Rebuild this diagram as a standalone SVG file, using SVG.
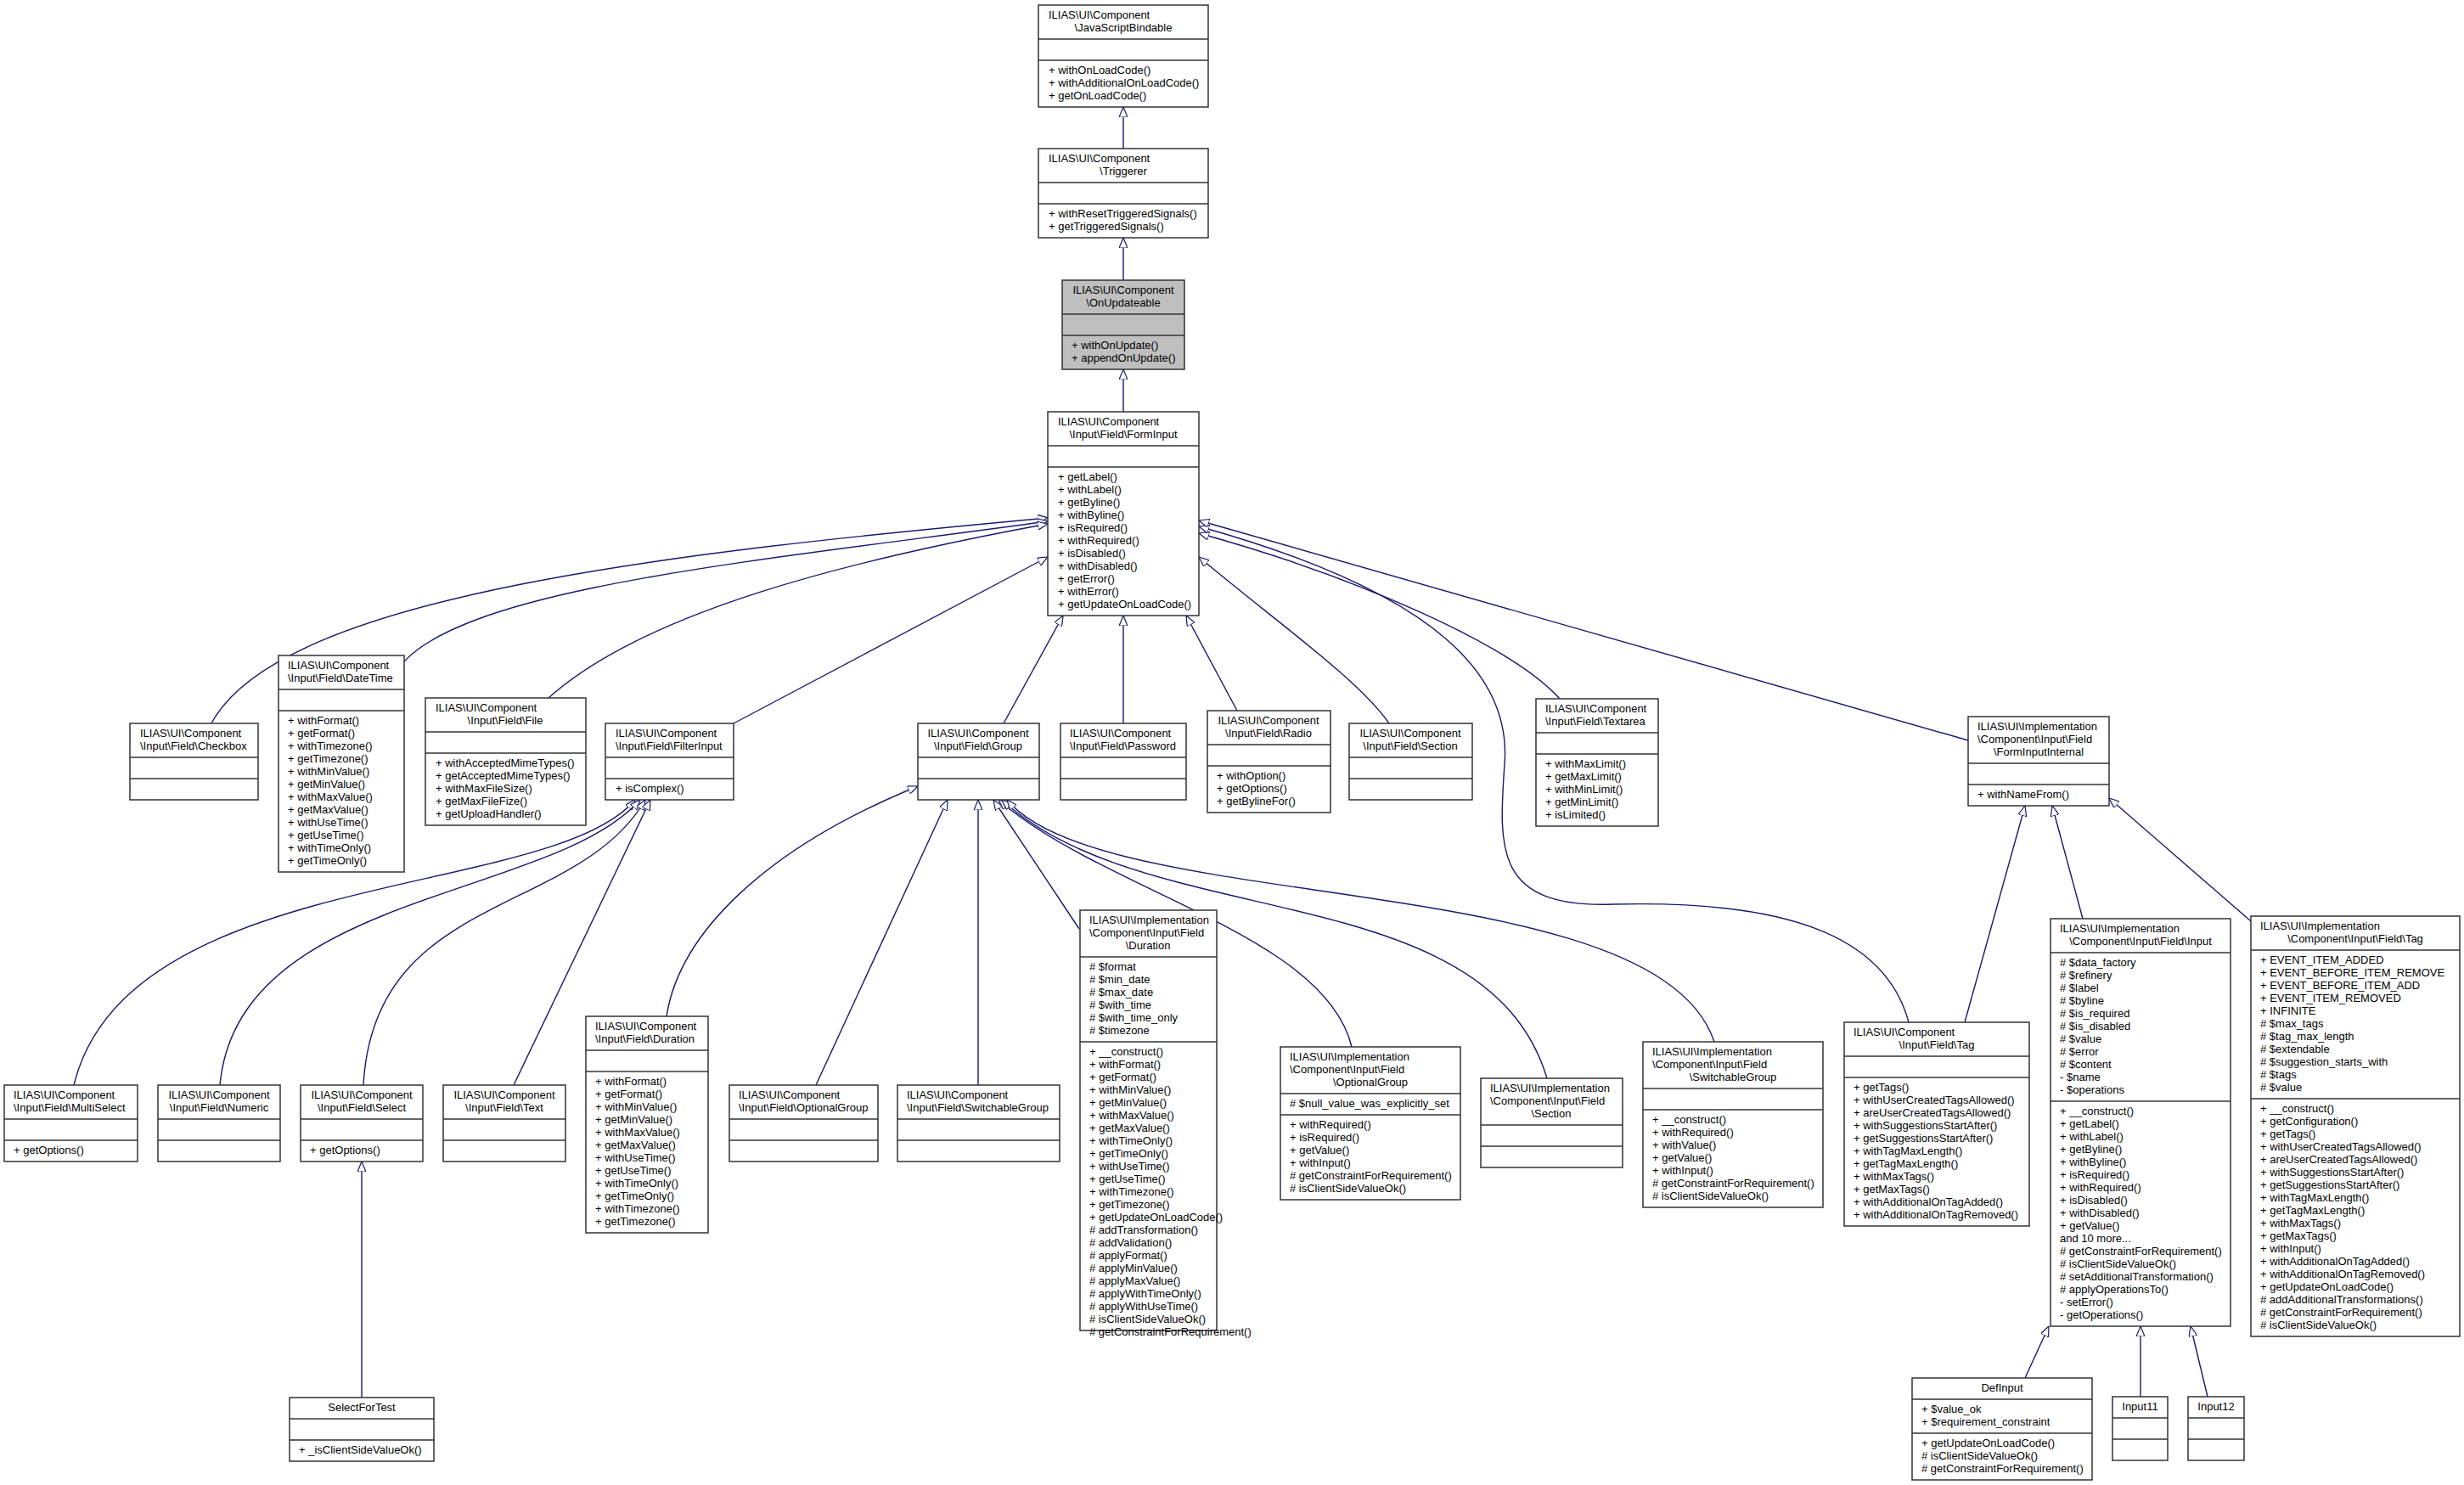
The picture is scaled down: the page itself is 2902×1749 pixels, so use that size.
<svg xmlns="http://www.w3.org/2000/svg" width="2902" height="1749" viewBox="0 0 2902 1749">
<style>
rect{fill:#fff;stroke:#333;stroke-width:1.5}
line{stroke:#333;stroke-width:1.5}
text{font-family:"Liberation Sans",Arial,sans-serif;font-size:13px;fill:#000}
.c{text-anchor:middle}
#edges path{fill:none;stroke:#191970;stroke-width:1.4;marker-start:url(#inh)}
</style>
<defs>
<marker id="inh" viewBox="0 0 12 10" refX="12" refY="5" markerWidth="12" markerHeight="10" markerUnits="userSpaceOnUse" orient="auto-start-reverse">
<path d="M0,0 L12,5 L0,10 z" fill="#fff" stroke="#191970" stroke-width="1.2"/>
</marker>
</defs>
<rect x="0" y="0" width="2902" height="1749" style="fill:#fff;stroke:none"/>
<g id="edges">
<path d="M1323,126 L1323,175"/>
<path d="M1323,280 L1323,330"/>
<path d="M1323,435 L1323,485"/>
<path d="M1234,610 C800,650 330,700 249,852"/>
<path d="M1234,614 C900,660 560,690 476,779"/>
<path d="M1234,617 C1000,660 760,720 646,822"/>
<path d="M1234,656 L864,852"/>
<path d="M1252,725 L1182,852"/>
<path d="M1323,725 L1323,852"/>
<path d="M1397,725 L1457,837"/>
<path d="M1412,656 C1500,730 1600,800 1636,852"/>
<path d="M1412,628 C1600,680 1780,760 1837,823"/>
<path d="M1412,620 C1700,700 1780,800 1772,900 C1765,1000 1760,1070 1900,1065 C2100,1060 2220,1100 2248,1204"/>
<path d="M1412,613 L2318,872"/>
<path d="M748,942 C650,1060 150,1020 87,1278"/>
<path d="M754,942 C650,1060 280,1050 259,1278"/>
<path d="M760,942 C680,1080 440,1050 428,1278"/>
<path d="M766,942 L605,1278"/>
<path d="M426,1368 L426,1646"/>
<path d="M1081,926 C900,1000 800,1100 785,1197"/>
<path d="M1116,942 L961,1278"/>
<path d="M1152,942 L1152,1278"/>
<path d="M1170,942 L1271,1094"/>
<path d="M1176,942 C1300,1050 1560,1100 1592,1233"/>
<path d="M1180,942 C1350,1100 1750,1030 1822,1270"/>
<path d="M1186,942 C1300,1080 1950,1020 2019,1227"/>
<path d="M2385,949 L2314,1204"/>
<path d="M2417,949 L2453,1082"/>
<path d="M2484,940 L2651,1085"/>
<path d="M2413,1562 L2385,1623"/>
<path d="M2521,1562 L2521,1645"/>
<path d="M2580,1562 L2600,1645"/>
</g>

<g id="JavaScriptBindable"><rect x="1223" y="6" width="200" height="120"/><line x1="1223" y1="46" x2="1423" y2="46"/><line x1="1223" y1="71" x2="1423" y2="71"/>
<text x="1235" y="21.5">ILIAS\UI\Component</text><text x="1323" y="36.5" class="c">\JavaScriptBindable</text>
<text x="1235" y="86.5">+ withOnLoadCode()</text><text x="1235" y="101.5">+ withAdditionalOnLoadCode()</text><text x="1235" y="116.5">+ getOnLoadCode()</text></g>

<g id="Triggerer"><rect x="1223" y="175" width="200" height="105"/><line x1="1223" y1="215" x2="1423" y2="215"/><line x1="1223" y1="240" x2="1423" y2="240"/>
<text x="1235" y="190.5">ILIAS\UI\Component</text><text x="1323" y="205.5" class="c">\Triggerer</text>
<text x="1235" y="255.5">+ withResetTriggeredSignals()</text><text x="1235" y="270.5">+ getTriggeredSignals()</text></g>

<g id="OnUpdateable"><rect x="1251" y="330" width="144" height="105" style="fill:#bfbfbf"/><line x1="1251" y1="370" x2="1395" y2="370"/><line x1="1251" y1="395" x2="1395" y2="395"/>
<text x="1323" y="345.5" class="c">ILIAS\UI\Component</text><text x="1323" y="360.5" class="c">\OnUpdateable</text>
<text x="1262" y="410.5">+ withOnUpdate()</text><text x="1262" y="425.5">+ appendOnUpdate()</text></g>

<g id="FormInput"><rect x="1234" y="485" width="178" height="240"/><line x1="1234" y1="525" x2="1412" y2="525"/><line x1="1234" y1="550" x2="1412" y2="550"/>
<text x="1246" y="500.5">ILIAS\UI\Component</text><text x="1323" y="515.5" class="c">\Input\Field\FormInput</text>
<text x="1246" y="565.5">+ getLabel()</text><text x="1246" y="580.5">+ withLabel()</text><text x="1246" y="595.5">+ getByline()</text><text x="1246" y="610.5">+ withByline()</text><text x="1246" y="625.5">+ isRequired()</text><text x="1246" y="640.5">+ withRequired()</text><text x="1246" y="655.5">+ isDisabled()</text><text x="1246" y="670.5">+ withDisabled()</text><text x="1246" y="685.5">+ getError()</text><text x="1246" y="700.5">+ withError()</text><text x="1246" y="715.5">+ getUpdateOnLoadCode()</text></g>

<g id="Checkbox"><rect x="153" y="852" width="151" height="90"/><line x1="153" y1="892" x2="304" y2="892"/><line x1="153" y1="917" x2="304" y2="917"/>
<text x="165" y="867.5">ILIAS\UI\Component</text><text x="165" y="882.5">\Input\Field\Checkbox</text></g>

<g id="DateTime"><rect x="328" y="772" width="148" height="255"/><line x1="328" y1="812" x2="476" y2="812"/><line x1="328" y1="837" x2="476" y2="837"/>
<text x="339" y="787.5">ILIAS\UI\Component</text><text x="339" y="802.5">\Input\Field\DateTime</text>
<text x="339" y="852.5">+ withFormat()</text><text x="339" y="867.5">+ getFormat()</text><text x="339" y="882.5">+ withTimezone()</text><text x="339" y="897.5">+ getTimezone()</text><text x="339" y="912.5">+ withMinValue()</text><text x="339" y="927.5">+ getMinValue()</text><text x="339" y="942.5">+ withMaxValue()</text><text x="339" y="957.5">+ getMaxValue()</text><text x="339" y="972.5">+ withUseTime()</text><text x="339" y="987.5">+ getUseTime()</text><text x="339" y="1002.5">+ withTimeOnly()</text><text x="339" y="1017.5">+ getTimeOnly()</text></g>

<g id="File"><rect x="501" y="822" width="189" height="150"/><line x1="501" y1="862" x2="690" y2="862"/><line x1="501" y1="887" x2="690" y2="887"/>
<text x="513" y="837.5">ILIAS\UI\Component</text><text x="595" y="852.5" class="c">\Input\Field\File</text>
<text x="513" y="902.5">+ withAcceptedMimeTypes()</text><text x="513" y="917.5">+ getAcceptedMimeTypes()</text><text x="513" y="932.5">+ withMaxFileSize()</text><text x="513" y="947.5">+ getMaxFileFize()</text><text x="513" y="962.5">+ getUploadHandler()</text></g>

<g id="FilterInput"><rect x="713" y="852" width="151" height="90"/><line x1="713" y1="892" x2="864" y2="892"/><line x1="713" y1="917" x2="864" y2="917"/>
<text x="725" y="867.5">ILIAS\UI\Component</text><text x="725" y="882.5">\Input\Field\FilterInput</text>
<text x="725" y="932.5">+ isComplex()</text></g>

<g id="Group"><rect x="1081" y="852" width="143" height="90"/><line x1="1081" y1="892" x2="1224" y2="892"/><line x1="1081" y1="917" x2="1224" y2="917"/>
<text x="1152" y="867.5" class="c">ILIAS\UI\Component</text><text x="1152" y="882.5" class="c">\Input\Field\Group</text></g>

<g id="Password"><rect x="1249" y="852" width="148" height="90"/><line x1="1249" y1="892" x2="1397" y2="892"/><line x1="1249" y1="917" x2="1397" y2="917"/>
<text x="1260" y="867.5">ILIAS\UI\Component</text><text x="1260" y="882.5">\Input\Field\Password</text></g>

<g id="Radio"><rect x="1422" y="837" width="145" height="120"/><line x1="1422" y1="877" x2="1567" y2="877"/><line x1="1422" y1="902" x2="1567" y2="902"/>
<text x="1494" y="852.5" class="c">ILIAS\UI\Component</text><text x="1494" y="867.5" class="c">\Input\Field\Radio</text>
<text x="1433" y="917.5">+ withOption()</text><text x="1433" y="932.5">+ getOptions()</text><text x="1433" y="947.5">+ getBylineFor()</text></g>

<g id="Section"><rect x="1589" y="852" width="145" height="90"/><line x1="1589" y1="892" x2="1734" y2="892"/><line x1="1589" y1="917" x2="1734" y2="917"/>
<text x="1661" y="867.5" class="c">ILIAS\UI\Component</text><text x="1661" y="882.5" class="c">\Input\Field\Section</text></g>

<g id="Textarea"><rect x="1809" y="823" width="144" height="150"/><line x1="1809" y1="863" x2="1953" y2="863"/><line x1="1809" y1="888" x2="1953" y2="888"/>
<text x="1820" y="838.5">ILIAS\UI\Component</text><text x="1820" y="853.5">\Input\Field\Textarea</text>
<text x="1820" y="903.5">+ withMaxLimit()</text><text x="1820" y="918.5">+ getMaxLimit()</text><text x="1820" y="933.5">+ withMinLimit()</text><text x="1820" y="948.5">+ getMinLimit()</text><text x="1820" y="963.5">+ isLimited()</text></g>

<g id="FormInputInternal"><rect x="2318" y="844" width="166" height="105"/><line x1="2318" y1="899" x2="2484" y2="899"/><line x1="2318" y1="924" x2="2484" y2="924"/>
<text x="2329" y="859.5">ILIAS\UI\Implementation</text><text x="2329" y="874.5">\Component\Input\Field</text><text x="2401" y="889.5" class="c">\FormInputInternal</text>
<text x="2329" y="939.5">+ withNameFrom()</text></g>

<g id="MultiSelect"><rect x="5" y="1278" width="157" height="90"/><line x1="5" y1="1318" x2="162" y2="1318"/><line x1="5" y1="1343" x2="162" y2="1343"/>
<text x="16" y="1293.5">ILIAS\UI\Component</text><text x="16" y="1308.5">\Input\Field\MultiSelect</text>
<text x="16" y="1358.5">+ getOptions()</text></g>

<g id="Numeric"><rect x="186" y="1278" width="144" height="90"/><line x1="186" y1="1318" x2="330" y2="1318"/><line x1="186" y1="1343" x2="330" y2="1343"/>
<text x="258" y="1293.5" class="c">ILIAS\UI\Component</text><text x="258" y="1308.5" class="c">\Input\Field\Numeric</text></g>

<g id="Select"><rect x="354" y="1278" width="144" height="90"/><line x1="354" y1="1318" x2="498" y2="1318"/><line x1="354" y1="1343" x2="498" y2="1343"/>
<text x="426" y="1293.5" class="c">ILIAS\UI\Component</text><text x="426" y="1308.5" class="c">\Input\Field\Select</text>
<text x="365" y="1358.5">+ getOptions()</text></g>

<g id="Text"><rect x="522" y="1278" width="144" height="90"/><line x1="522" y1="1318" x2="666" y2="1318"/><line x1="522" y1="1343" x2="666" y2="1343"/>
<text x="594" y="1293.5" class="c">ILIAS\UI\Component</text><text x="594" y="1308.5" class="c">\Input\Field\Text</text></g>

<g id="DurationComp"><rect x="690" y="1197" width="144" height="255"/><line x1="690" y1="1237" x2="834" y2="1237"/><line x1="690" y1="1262" x2="834" y2="1262"/>
<text x="701" y="1212.5">ILIAS\UI\Component</text><text x="701" y="1227.5">\Input\Field\Duration</text>
<text x="701" y="1277.5">+ withFormat()</text><text x="701" y="1292.5">+ getFormat()</text><text x="701" y="1307.5">+ withMinValue()</text><text x="701" y="1322.5">+ getMinValue()</text><text x="701" y="1337.5">+ withMaxValue()</text><text x="701" y="1352.5">+ getMaxValue()</text><text x="701" y="1367.5">+ withUseTime()</text><text x="701" y="1382.5">+ getUseTime()</text><text x="701" y="1397.5">+ withTimeOnly()</text><text x="701" y="1412.5">+ getTimeOnly()</text><text x="701" y="1427.5">+ withTimezone()</text><text x="701" y="1442.5">+ getTimezone()</text></g>

<g id="OptionalGroup"><rect x="859" y="1278" width="175" height="90"/><line x1="859" y1="1318" x2="1034" y2="1318"/><line x1="859" y1="1343" x2="1034" y2="1343"/>
<text x="870" y="1293.5">ILIAS\UI\Component</text><text x="870" y="1308.5">\Input\Field\OptionalGroup</text></g>

<g id="SwitchableGroup"><rect x="1057" y="1278" width="191" height="90"/><line x1="1057" y1="1318" x2="1248" y2="1318"/><line x1="1057" y1="1343" x2="1248" y2="1343"/>
<text x="1068" y="1293.5">ILIAS\UI\Component</text><text x="1068" y="1308.5">\Input\Field\SwitchableGroup</text></g>

<g id="ImplDuration"><rect x="1272" y="1072" width="161" height="495"/><line x1="1272" y1="1127" x2="1433" y2="1127"/><line x1="1272" y1="1227" x2="1433" y2="1227"/>
<text x="1283" y="1087.5">ILIAS\UI\Implementation</text><text x="1283" y="1102.5">\Component\Input\Field</text><text x="1352" y="1117.5" class="c">\Duration</text>
<text x="1283" y="1142.5"># $format</text><text x="1283" y="1157.5"># $min_date</text><text x="1283" y="1172.5"># $max_date</text><text x="1283" y="1187.5"># $with_time</text><text x="1283" y="1202.5"># $with_time_only</text><text x="1283" y="1217.5"># $timezone</text>
<text x="1283" y="1242.5">+ __construct()</text><text x="1283" y="1257.5">+ withFormat()</text><text x="1283" y="1272.5">+ getFormat()</text><text x="1283" y="1287.5">+ withMinValue()</text><text x="1283" y="1302.5">+ getMinValue()</text><text x="1283" y="1317.5">+ withMaxValue()</text><text x="1283" y="1332.5">+ getMaxValue()</text><text x="1283" y="1347.5">+ withTimeOnly()</text><text x="1283" y="1362.5">+ getTimeOnly()</text><text x="1283" y="1377.5">+ withUseTime()</text><text x="1283" y="1392.5">+ getUseTime()</text><text x="1283" y="1407.5">+ withTimezone()</text><text x="1283" y="1422.5">+ getTimezone()</text><text x="1283" y="1437.5">+ getUpdateOnLoadCode()</text><text x="1283" y="1452.5"># addTransformation()</text><text x="1283" y="1467.5"># addValidation()</text><text x="1283" y="1482.5"># applyFormat()</text><text x="1283" y="1497.5"># applyMinValue()</text><text x="1283" y="1512.5"># applyMaxValue()</text><text x="1283" y="1527.5"># applyWithTimeOnly()</text><text x="1283" y="1542.5"># applyWithUseTime()</text><text x="1283" y="1557.5"># isClientSideValueOk()</text><text x="1283" y="1572.5"># getConstraintForRequirement()</text></g>

<g id="ImplOptionalGroup"><rect x="1508" y="1233" width="212" height="180"/><line x1="1508" y1="1288" x2="1720" y2="1288"/><line x1="1508" y1="1313" x2="1720" y2="1313"/>
<text x="1519" y="1248.5">ILIAS\UI\Implementation</text><text x="1519" y="1263.5">\Component\Input\Field</text><text x="1614" y="1278.5" class="c">\OptionalGroup</text>
<text x="1519" y="1303.5"># $null_value_was_explicitly_set</text>
<text x="1519" y="1328.5">+ withRequired()</text><text x="1519" y="1343.5">+ isRequired()</text><text x="1519" y="1358.5">+ getValue()</text><text x="1519" y="1373.5">+ withInput()</text><text x="1519" y="1388.5"># getConstraintForRequirement()</text><text x="1519" y="1403.5"># isClientSideValueOk()</text></g>

<g id="ImplSection"><rect x="1744" y="1270" width="167" height="105"/><line x1="1744" y1="1325" x2="1911" y2="1325"/><line x1="1744" y1="1350" x2="1911" y2="1350"/>
<text x="1755" y="1285.5">ILIAS\UI\Implementation</text><text x="1755" y="1300.5">\Component\Input\Field</text><text x="1827" y="1315.5" class="c">\Section</text></g>

<g id="ImplSwitchableGroup"><rect x="1935" y="1227" width="212" height="195"/><line x1="1935" y1="1282" x2="2147" y2="1282"/><line x1="1935" y1="1307" x2="2147" y2="1307"/>
<text x="1946" y="1242.5">ILIAS\UI\Implementation</text><text x="1946" y="1257.5">\Component\Input\Field</text><text x="2041" y="1272.5" class="c">\SwitchableGroup</text>
<text x="1946" y="1322.5">+ __construct()</text><text x="1946" y="1337.5">+ withRequired()</text><text x="1946" y="1352.5">+ withValue()</text><text x="1946" y="1367.5">+ getValue()</text><text x="1946" y="1382.5">+ withInput()</text><text x="1946" y="1397.5"># getConstraintForRequirement()</text><text x="1946" y="1412.5"># isClientSideValueOk()</text></g>

<g id="TagComp"><rect x="2172" y="1204" width="218" height="240"/><line x1="2172" y1="1244" x2="2390" y2="1244"/><line x1="2172" y1="1269" x2="2390" y2="1269"/>
<text x="2183" y="1219.5">ILIAS\UI\Component</text><text x="2281" y="1234.5" class="c">\Input\Field\Tag</text>
<text x="2183" y="1284.5">+ getTags()</text><text x="2183" y="1299.5">+ withUserCreatedTagsAllowed()</text><text x="2183" y="1314.5">+ areUserCreatedTagsAllowed()</text><text x="2183" y="1329.5">+ withSuggestionsStartAfter()</text><text x="2183" y="1344.5">+ getSuggestionsStartAfter()</text><text x="2183" y="1359.5">+ withTagMaxLength()</text><text x="2183" y="1374.5">+ getTagMaxLength()</text><text x="2183" y="1389.5">+ withMaxTags()</text><text x="2183" y="1404.5">+ getMaxTags()</text><text x="2183" y="1419.5">+ withAdditionalOnTagAdded()</text><text x="2183" y="1434.5">+ withAdditionalOnTagRemoved()</text></g>

<g id="ImplInput"><rect x="2415" y="1082" width="212" height="480"/><line x1="2415" y1="1122" x2="2627" y2="1122"/><line x1="2415" y1="1297" x2="2627" y2="1297"/>
<text x="2426" y="1097.5">ILIAS\UI\Implementation</text><text x="2521" y="1112.5" class="c">\Component\Input\Field\Input</text>
<text x="2426" y="1137.5"># $data_factory</text><text x="2426" y="1152.5"># $refinery</text><text x="2426" y="1167.5"># $label</text><text x="2426" y="1182.5"># $byline</text><text x="2426" y="1197.5"># $is_required</text><text x="2426" y="1212.5"># $is_disabled</text><text x="2426" y="1227.5"># $value</text><text x="2426" y="1242.5"># $error</text><text x="2426" y="1257.5"># $content</text><text x="2426" y="1272.5">- $name</text><text x="2426" y="1287.5">- $operations</text>
<text x="2426" y="1312.5">+ __construct()</text><text x="2426" y="1327.5">+ getLabel()</text><text x="2426" y="1342.5">+ withLabel()</text><text x="2426" y="1357.5">+ getByline()</text><text x="2426" y="1372.5">+ withByline()</text><text x="2426" y="1387.5">+ isRequired()</text><text x="2426" y="1402.5">+ withRequired()</text><text x="2426" y="1417.5">+ isDisabled()</text><text x="2426" y="1432.5">+ withDisabled()</text><text x="2426" y="1447.5">+ getValue()</text><text x="2426" y="1462.5">and 10 more...</text><text x="2426" y="1477.5"># getConstraintForRequirement()</text><text x="2426" y="1492.5"># isClientSideValueOk()</text><text x="2426" y="1507.5"># setAdditionalTransformation()</text><text x="2426" y="1522.5"># applyOperationsTo()</text><text x="2426" y="1537.5">- setError()</text><text x="2426" y="1552.5">- getOperations()</text></g>

<g id="ImplTag"><rect x="2651" y="1079" width="246" height="495"/><line x1="2651" y1="1119" x2="2897" y2="1119"/><line x1="2651" y1="1294" x2="2897" y2="1294"/>
<text x="2662" y="1094.5">ILIAS\UI\Implementation</text><text x="2774" y="1109.5" class="c">\Component\Input\Field\Tag</text>
<text x="2662" y="1134.5">+ EVENT_ITEM_ADDED</text><text x="2662" y="1149.5">+ EVENT_BEFORE_ITEM_REMOVE</text><text x="2662" y="1164.5">+ EVENT_BEFORE_ITEM_ADD</text><text x="2662" y="1179.5">+ EVENT_ITEM_REMOVED</text><text x="2662" y="1194.5">+ INFINITE</text><text x="2662" y="1209.5"># $max_tags</text><text x="2662" y="1224.5"># $tag_max_length</text><text x="2662" y="1239.5"># $extendable</text><text x="2662" y="1254.5"># $suggestion_starts_with</text><text x="2662" y="1269.5"># $tags</text><text x="2662" y="1284.5"># $value</text>
<text x="2662" y="1309.5">+ __construct()</text><text x="2662" y="1324.5">+ getConfiguration()</text><text x="2662" y="1339.5">+ getTags()</text><text x="2662" y="1354.5">+ withUserCreatedTagsAllowed()</text><text x="2662" y="1369.5">+ areUserCreatedTagsAllowed()</text><text x="2662" y="1384.5">+ withSuggestionsStartAfter()</text><text x="2662" y="1399.5">+ getSuggestionsStartAfter()</text><text x="2662" y="1414.5">+ withTagMaxLength()</text><text x="2662" y="1429.5">+ getTagMaxLength()</text><text x="2662" y="1444.5">+ withMaxTags()</text><text x="2662" y="1459.5">+ getMaxTags()</text><text x="2662" y="1474.5">+ withInput()</text><text x="2662" y="1489.5">+ withAdditionalOnTagAdded()</text><text x="2662" y="1504.5">+ withAdditionalOnTagRemoved()</text><text x="2662" y="1519.5">+ getUpdateOnLoadCode()</text><text x="2662" y="1534.5"># addAdditionalTransformations()</text><text x="2662" y="1549.5"># getConstraintForRequirement()</text><text x="2662" y="1564.5"># isClientSideValueOk()</text></g>

<g id="SelectForTest"><rect x="341" y="1646" width="170" height="75"/><line x1="341" y1="1671" x2="511" y2="1671"/><line x1="341" y1="1696" x2="511" y2="1696"/>
<text x="426" y="1661.5" class="c">SelectForTest</text>
<text x="352" y="1711.5">+ _isClientSideValueOk()</text></g>

<g id="DefInput"><rect x="2252" y="1623" width="212" height="120"/><line x1="2252" y1="1648" x2="2464" y2="1648"/><line x1="2252" y1="1688" x2="2464" y2="1688"/>
<text x="2358" y="1638.5" class="c">DefInput</text>
<text x="2263" y="1663.5">+ $value_ok</text><text x="2263" y="1678.5">+ $requirement_constraint</text>
<text x="2263" y="1703.5">+ getUpdateOnLoadCode()</text><text x="2263" y="1718.5"># isClientSideValueOk()</text><text x="2263" y="1733.5"># getConstraintForRequirement()</text></g>

<g id="Input11"><rect x="2488" y="1645" width="65" height="75"/><line x1="2488" y1="1670" x2="2553" y2="1670"/><line x1="2488" y1="1695" x2="2553" y2="1695"/>
<text x="2520.5" y="1660.5" class="c">Input11</text></g>

<g id="Input12"><rect x="2577" y="1645" width="66" height="75"/><line x1="2577" y1="1670" x2="2643" y2="1670"/><line x1="2577" y1="1695" x2="2643" y2="1695"/>
<text x="2610" y="1660.5" class="c">Input12</text></g>
</svg>
